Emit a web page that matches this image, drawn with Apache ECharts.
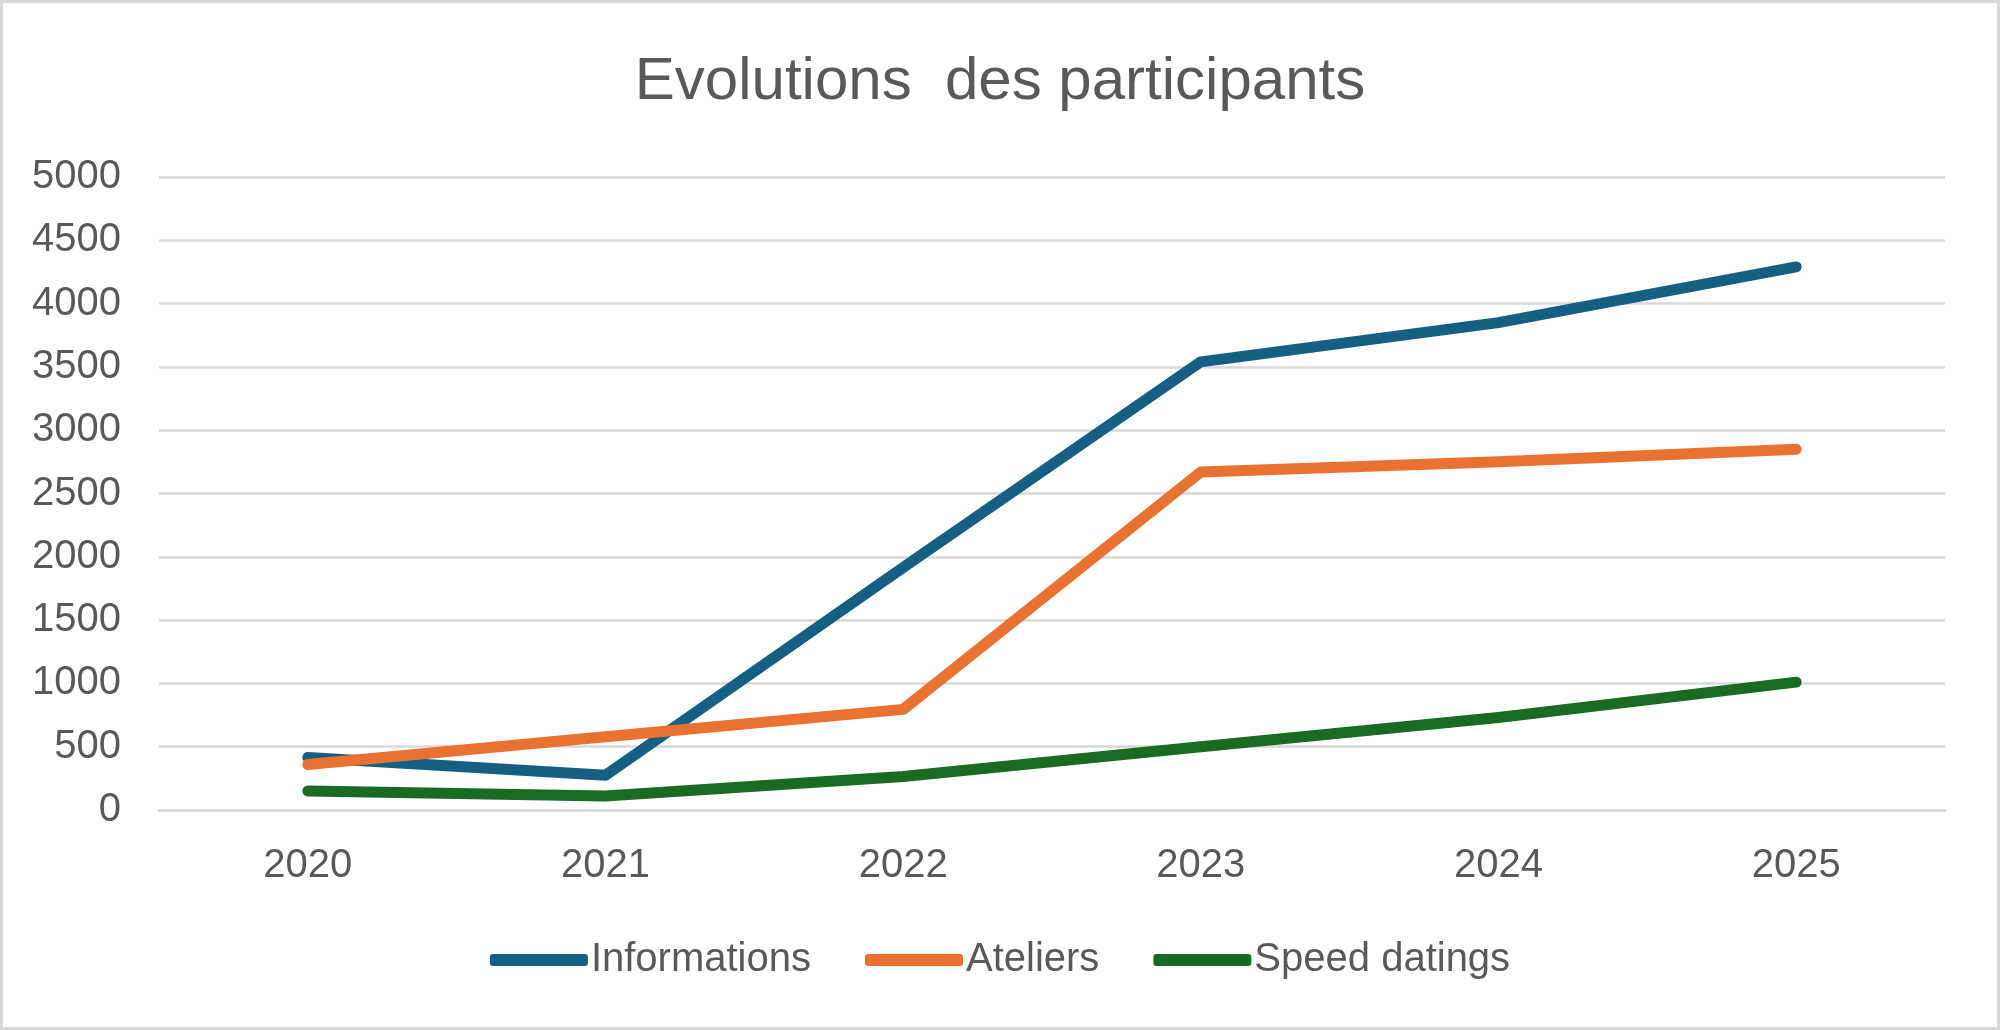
<!DOCTYPE html>
<html>
<head>
<meta charset="utf-8">
<script src="https://cdn.jsdelivr.net/npm/echarts@6/dist/echarts.min.js"></script>
<style>
  html, body { margin: 0; padding: 0; background: #ffffff; }
  #chart { width: 2000px; height: 1030px; box-sizing: border-box; border: 3px solid #d9d9d9; background: #fff; }
</style>
</head>
<body>
<div id="chart"></div>
<script>
const titleText = 'Evolutions  des participants';
const categories = ['2020', '2021', '2022', '2023', '2024', '2025'];
const seriesNames = ['Informations', 'Ateliers', 'Speed datings'];
const informations = [415, 275, 1915, 3540, 3850, 4290];
const ateliers = [360, 578, 795, 2670, 2750, 2850];
const speedDatings = [150, 110, 265, 500, 730, 1010];
const colors = ['#156082', '#E97132', '#196B24'];

const FONT = '"Liberation Sans", Arial, sans-serif';
const chart = echarts.init(document.getElementById('chart'));

function lineSeries(name, data, color) {
  return {
    name: name,
    type: 'line',
    data: data,
    symbol: 'none',
    smooth: false,
    lineStyle: { color: color, width: 11, cap: 'round', join: 'round' },
    itemStyle: { color: color },
    emphasis: { disabled: true }
  };
}

chart.setOption({
  animation: false,
  backgroundColor: '#ffffff',
  title: {
    text: titleText,
    left: 'center',
    top: 44,
    textStyle: { fontFamily: FONT, fontSize: 60, fontWeight: 'normal', color: '#595959' }
  },
  legend: {
    data: seriesNames,
    bottom: 42,
    left: 'center',
    icon: 'roundRect',
    itemWidth: 98,
    itemHeight: 12,
    itemGap: 54,
    textStyle: { fontFamily: FONT, fontSize: 40, color: '#595959', padding: [0, 0, 0, -2] }
  },
  grid: { left: 156, right: 52, top: 174, bottom: 217, containLabel: false },
  xAxis: {
    type: 'category',
    data: categories,
    boundaryGap: true,
    axisLine: { show: true, lineStyle: { color: '#d9d9d9', width: 2.5 } },
    axisTick: { show: false },
    axisLabel: { fontFamily: FONT, fontSize: 40, color: '#595959', margin: 36 }
  },
  yAxis: {
    type: 'value',
    min: 0,
    max: 5000,
    interval: 500,
    axisLine: { show: false },
    axisTick: { show: false },
    splitLine: { lineStyle: { color: '#d9d9d9', width: 2.5 } },
    axisLabel: {
      fontFamily: FONT, fontSize: 40, color: '#595959', margin: 38,
      formatter: function (v) { return String(v); }
    }
  },
  series: [
    lineSeries(seriesNames[0], informations, colors[0]),
    lineSeries(seriesNames[1], ateliers, colors[1]),
    lineSeries(seriesNames[2], speedDatings, colors[2])
  ]
});
</script>
</body>
</html>
